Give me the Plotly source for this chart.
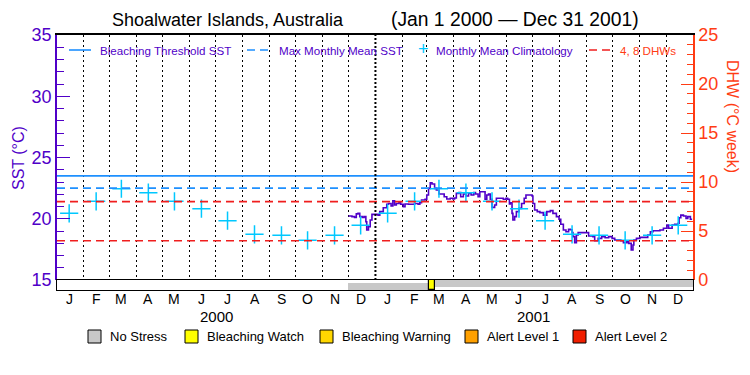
import pandas as pd
import plotly.graph_objects as go

# ---------------- data ----------------
month_letters = ["J", "F", "M", "A", "M", "J", "J", "A", "S", "O", "N", "D"]
years = [2000, 2001]
clim_sst = [20.44, 21.42, 22.45, 22.13, 21.42, 20.82, 19.84, 18.73, 18.65, 18.24, 18.65, 19.46]
bleaching_threshold = 23.5
max_monthly_mean = 22.5
dhw_levels = [4, 8]

# daily SST trace: day offset from 2000-01-01 and value (deg C)
sst_day = [335, 339, 342, 344, 346, 348, 351, 353, 355, 356, 358, 360, 362, 367, 369, 371,
           375, 379, 381, 384, 386, 388, 390, 393, 395, 398, 400, 404, 408, 411, 415, 417,
           419, 423, 425, 427, 429, 431, 434, 436, 439, 442, 445, 448, 452, 455, 457, 459,
           462, 464, 467, 470, 473, 476, 479, 481, 484, 486, 490, 492, 494, 496, 498, 500,
           503, 505, 509, 513, 516, 518, 520, 521, 523, 524, 526, 528, 531, 534, 537, 539,
           544, 546, 547, 549, 552, 555, 559, 563, 567, 570, 574, 577, 579, 582, 585, 588,
           590, 592, 593, 595, 597, 599, 605, 610, 611, 616, 618, 622, 626, 630, 634, 638,
           641, 645, 648, 651, 655, 657, 660, 662, 663, 666, 670, 676, 679, 682, 685, 689,
           693, 697, 701, 703, 707, 710, 714, 715, 717, 720, 723, 725, 728, 730]
sst_val = [20.22, 20.17, 20.10, 20.40, 20.44, 20.17, 20.10, 20.17, 19.76, 19.08, 19.35, 19.90,
           20.36, 20.36, 20.30, 20.58, 20.90, 21.18, 21.25, 21.04, 21.47, 21.12, 21.25, 21.31,
           21.18, 20.98, 21.20, 21.18, 21.18, 21.25, 21.18, 21.31, 21.53, 21.59, 21.94, 22.48,
           22.94, 22.84, 22.48, 22.35, 22.02, 22.02, 21.80, 21.61, 21.67, 21.61, 21.70, 22.07,
           22.13, 21.80, 22.02, 21.86, 22.07, 21.94, 22.13, 22.02, 21.80, 22.20, 22.20, 21.59,
           21.94, 22.02, 21.59, 20.93, 21.12, 21.67, 21.67, 21.59, 21.67, 21.59, 21.20, 21.31,
           20.44, 19.90, 20.17, 20.58, 20.85, 21.25, 21.67, 21.94, 21.94, 21.86, 21.25, 20.71,
           20.58, 20.50, 20.30, 20.58, 20.66, 20.44, 20.17, 19.96, 19.55, 19.08, 18.94, 19.14,
           19.10, 18.87, 18.54, 18.05, 18.67, 18.87, 18.87, 18.87, 18.59, 18.54, 18.21, 18.40,
           18.54, 18.45, 18.54, 18.40, 18.26, 18.26, 18.21, 18.05, 18.13, 17.99, 17.45, 17.86,
           18.26, 18.40, 18.48, 18.48, 18.67, 18.94, 19.02, 19.02, 19.08, 19.22, 19.49, 19.22,
           19.49, 19.55, 19.63, 20.08, 20.30, 20.22, 20.03, 20.17, 19.96, 19.96]

# bleaching alert status bar
status_start = ["2000-12-01", "2001-03-03", "2001-03-11"]
status_end = ["2001-03-03", "2001-03-11", "2002-01-01"]
status_level = ["No Stress", "Bleaching Watch", "No Stress"]

status_names = ["No Stress", "Bleaching Watch", "Bleaching Warning", "Alert Level 1", "Alert Level 2"]
status_colors = ["#C8C8C8", "#FFFF00", "#FFD700", "#FFA000", "#F01E00"]

# ---------------- styling ----------------
PURPLE = "#5000C8"
ORANGE = "#FF3C14"
CYAN = "#00C8FF"
BLUE = "#1E90FF"
RED = "#F01E1E"
FONT = "Liberation Sans"

X0, X1 = "2000-01-01", "2002-01-01"
base = pd.Timestamp("2000-01-01")
sst_dates = base + pd.to_timedelta(sst_day, unit="D")
clim_dates = [pd.Timestamp(year=y, month=m, day=15) for y in years for m in range(1, 13)]
clim_vals = clim_sst * len(years)
month_mid = clim_dates
month_text = month_letters * len(years)
month_starts = [d for d in pd.date_range("2000-02-01", "2001-12-01", freq="MS")
                if d != pd.Timestamp("2001-01-01")]

# pixel -> paper helpers (plot area: x 57..693, y 35..290)
L, R, T, B = 57, 693, 35, 290
def px(xp):
    return (xp - L) / (R - L)
def py(yp):
    return (B - yp) / (B - T)

fig = go.Figure()

# SST line
fig.add_trace(go.Scatter(x=sst_dates, y=sst_val, mode="lines", line=dict(color=PURPLE, width=1.6, shape="hv"),
                         xaxis="x", yaxis="y", showlegend=False))
# climatology crosses
fig.add_trace(go.Scatter(x=clim_dates, y=clim_vals, mode="markers",
                         marker=dict(symbol="cross-thin", size=13, line=dict(color=CYAN, width=1.5)),
                         xaxis="x", yaxis="y", showlegend=False))
# dummy trace to activate y2
fig.add_trace(go.Scatter(x=[None], y=[None], xaxis="x", yaxis="y2", showlegend=False))

# status bar (horizontal bars on a date axis)
for s, e, lev in zip(status_start, status_end, status_level):
    s_t, e_t = pd.Timestamp(s), pd.Timestamp(e)
    dur_ms = (e_t - s_t).total_seconds() * 1000
    col = status_colors[status_names.index(lev)]
    fig.add_trace(go.Bar(y=[0.5], x=[dur_ms], base=[s], orientation="h", width=[1.0], marker=dict(
        color=col, line=dict(color="black" if lev != "No Stress" else col, width=1.2 if lev != "No Stress" else 0)),
        xaxis="x2", yaxis="y3", showlegend=False, hoverinfo="skip"))

shapes = []
# reference lines
shapes.append(dict(type="line", xref="x domain", x0=0, x1=1, yref="y", y0=bleaching_threshold,
                   y1=bleaching_threshold, line=dict(color=BLUE, width=1.6)))
shapes.append(dict(type="line", xref="x domain", x0=0, x1=1, yref="y", y0=max_monthly_mean,
                   y1=max_monthly_mean, line=dict(color=BLUE, width=1.6, dash="8px,5px")))
for lv in dhw_levels:
    shapes.append(dict(type="line", xref="x domain", x0=0, x1=1, yref="y2", y0=lv, y1=lv,
                       line=dict(color=RED, width=1.6, dash="8px,5px")))
# year boundary (bold dotted)
shapes.append(dict(type="line", xref="x", x0="2001-01-01", x1="2001-01-01", yref="y domain", y0=0, y1=1,
                   line=dict(color="black", width=2, dash="2px,2px")))

annotations = []
def ann(text, xp, yp, size, color, xanchor="center", angle=0, xref="paper"):
    annotations.append(dict(text=text, x=xp if xref != "paper" else px(xp), y=py(yp), xref=xref, yref="paper",
                            xanchor=xanchor, yanchor="middle", textangle=angle, showarrow=False,
                            font=dict(family=FONT, size=size, color=color)))

# title
ann("Shoalwater Islands, Australia", 228, 20, 18, "black")
ann("(Jan 1 2000 \u2014 Dec 31 2001)", 515, 20, 19.3, "black")
# axis titles
ann("SST (\u00b0C)", 18, 158, 16, PURPLE, angle=-90)
ann("DHW (\u00b0C week)", 733, 116, 16, ORANGE, angle=90)
# month and year labels
for d, t in zip(month_mid, month_text):
    ann(t, d, 299, 14, "black", xref="x2")
for y in years:
    ann(str(y), pd.Timestamp(year=y, month=7, day=2), 316, 15, "black", xref="x2")

# top legend
LY = 50
shapes.append(dict(type="line", xref="paper", yref="paper", x0=px(69), x1=px(91), y0=py(LY), y1=py(LY),
                   line=dict(color=BLUE, width=1.6)))
shapes.append(dict(type="line", xref="paper", yref="paper", x0=px(247), x1=px(271), y0=py(LY), y1=py(LY),
                   line=dict(color=BLUE, width=1.6, dash="8px,5px")))
shapes.append(dict(type="line", xref="paper", yref="paper", x0=px(589), x1=px(613), y0=py(LY), y1=py(LY),
                   line=dict(color=RED, width=1.6, dash="8px,5px")))
leg_items = [("Bleaching Threshold SST", 98, PURPLE), ("Max Monthly Mean SST", 277, PURPLE),
             ("Monthly Mean Climatology", 434, PURPLE), ("4, 8 DHWs", 618, ORANGE)]
for txt, xp, col in leg_items:
    ann(txt, xp, LY, 11.6, col, xanchor="left")
ann("+", 423, LY - 1, 18, CYAN)

# bottom legend
box_x = [88, 185, 320, 465, 573]
for name, col, bx in zip(status_names, status_colors, box_x):
    shapes.append(dict(type="rect", xref="paper", yref="paper", x0=px(bx), x1=px(bx + 13), y0=py(343), y1=py(330),
                       fillcolor=col, line=dict(color="black", width=1)))
    ann(name, bx + 20, 336.5, 13, "black", xanchor="left")

bar_frac = (B - 280) / (B - T)

fig.update_layout(
    width=750, height=375, autosize=False,
    margin=dict(l=L, r=750 - R, t=T, b=375 - B, pad=0),
    paper_bgcolor="white", plot_bgcolor="white",
    showlegend=False, bargap=0,
    font=dict(family=FONT),
    xaxis=dict(type="date", range=[X0, X1], anchor="y", domain=[0, 1], side="top", showticklabels=False,
               ticks="", showgrid=False, zeroline=False, showline=True, mirror=False, linecolor="black",
               linewidth=1.5,
               minor=dict(tickmode="array", tickvals=month_starts, showgrid=True, gridcolor="black",
                          griddash="2px,3px", gridwidth=1.3, ticks="")),
    xaxis2=dict(type="date", range=[X0, X1], anchor="y3", matches="x", domain=[0, 1], showticklabels=False,
                ticks="", showgrid=False, zeroline=False, showline=True, mirror=True, linecolor="black",
                linewidth=1.2),
    yaxis=dict(range=[15, 35], domain=[bar_frac, 1], anchor="x", tickmode="linear", tick0=15, dtick=5,
               ticks="inside", ticklen=13, tickwidth=1.3, tickcolor=PURPLE, showgrid=False, zeroline=False,
               showline=True, linecolor=PURPLE, linewidth=1.5, tickfont=dict(family=FONT, size=18, color=PURPLE),
               minor=dict(dtick=1, ticks="inside", ticklen=7, tickwidth=1.3, tickcolor=PURPLE, showgrid=False)),
    yaxis2=dict(range=[0, 25], overlaying="y", side="right", anchor="x", tickmode="linear", tick0=0, dtick=5,
                ticks="inside", ticklen=12, tickwidth=1.3, tickcolor=ORANGE, showgrid=False, zeroline=False,
                showline=True, linecolor=ORANGE, linewidth=1.5, tickfont=dict(family=FONT, size=18, color=ORANGE),
                minor=dict(dtick=1, ticks="inside", ticklen=6, tickwidth=1.3, tickcolor=ORANGE, showgrid=False)),
    yaxis3=dict(range=[0, 1], domain=[0, bar_frac], anchor="x2", showticklabels=False, ticks="", showgrid=False,
                zeroline=False, showline=True, mirror=True, linecolor="black", linewidth=1.2, fixedrange=True),
    shapes=shapes, annotations=annotations,
)

fig.write_html("out.html", config={"displayModeBar": False},
               post_script="document.body.style.margin='0';document.body.style.overflow='hidden';")
